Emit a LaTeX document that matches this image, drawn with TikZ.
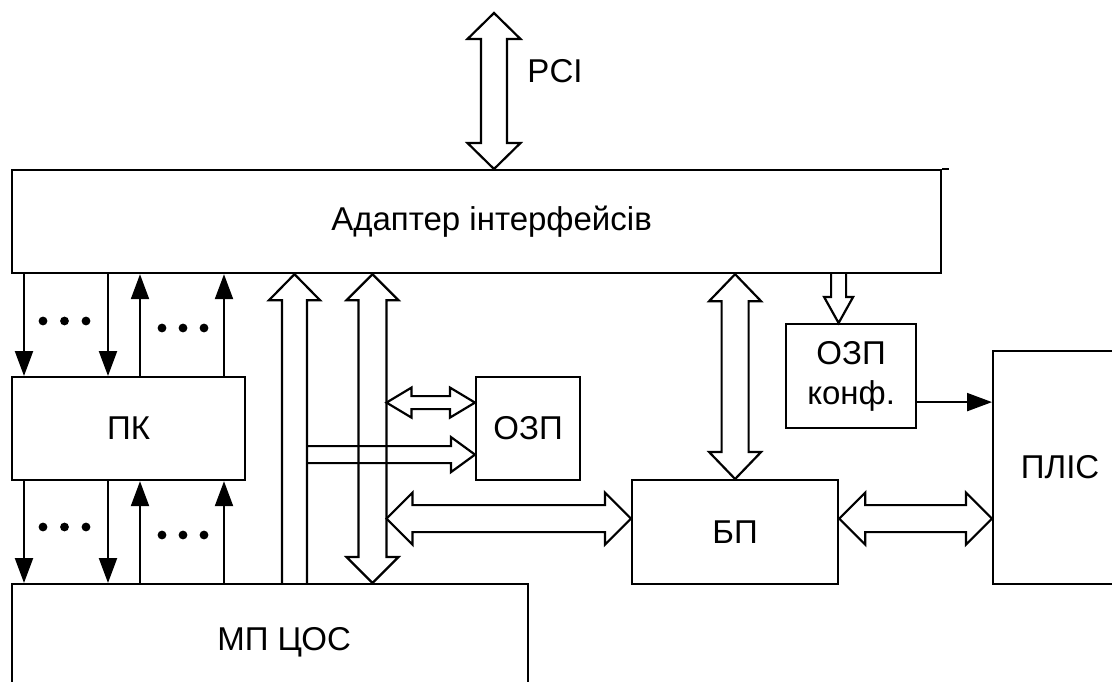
\documentclass[tikz,border=0pt]{standalone}
\usepackage{fontspec}
\setmainfont{Liberation Sans}
\usetikzlibrary{arrows.meta,positioning,calc}

% hollow double arrow: from, to, half shaft, half head, head length
\newcommand{\dblarr}[5]{%
  \path (#1) coordinate (q0) (#2) coordinate (q1);
  \path ($(q0)!#5!(q1)$) coordinate (h0) ($(q1)!#5!(q0)$) coordinate (h1);
  \draw[hollow] (q0) -- ($(h0)!#4!90:(q1)$) -- ($(h0)!#3!90:(q1)$)
    -- ($(h1)!#3!-90:(q0)$) -- ($(h1)!#4!-90:(q0)$) -- (q1)
    -- ($(h1)!#4!90:(q0)$) -- ($(h1)!#3!90:(q0)$)
    -- ($(h0)!#3!-90:(q1)$) -- ($(h0)!#4!-90:(q1)$) -- cycle;}
% hollow single arrow, open tail
\newcommand{\onearr}[5]{%
  \path (#1) coordinate (q0) (#2) coordinate (q1);
  \path ($(q1)!#5!(q0)$) coordinate (h1);
  \draw[hollow] ($(q0)!#3!90:(q1)$) -- ($(h1)!#3!-90:(q0)$)
    -- ($(h1)!#4!-90:(q0)$) -- (q1) -- ($(h1)!#4!90:(q0)$)
    -- ($(h1)!#3!90:(q0)$) -- ($(q0)!#3!-90:(q1)$);}

\begin{document}
\begin{tikzpicture}[x=1pt, y=-1pt,
  blk/.style={
    draw, line width=2.2pt, anchor=north west, inner sep=0pt,
    align=center, font=\fontsize{33}{40}\selectfont
  },
  hollow/.style={line width=2.2pt},
  thinarr/.style={-{Triangle[length=25pt, width=18pt]}, line width=2.2pt}
]
  \useasboundingbox (0,0) rectangle (1112,681);

  \node[blk, minimum width=929pt, minimum height=103pt] (adp) at (11,169) {\hspace*{30pt}Адаптер інтерфейсів};
  \draw[line width=2.2pt] (adp.north east) -- ++(7,0);
  \node[blk, minimum width=233pt, minimum height=103pt] (pk)  at (11,376) {ПК};
  \node[blk, minimum width=516pt, minimum height=117pt] (mp)  at (11,583) {\hspace*{28pt}МП ЦОС};
  \node[blk, minimum width=104pt, minimum height=103pt] (ozp) at (475,376) {ОЗП};
  \node[blk, minimum width=206pt, minimum height=104pt] (bp)  at (631,479) {БП};
  \node[blk, minimum width=130pt, minimum height=104pt] (ozk) at (785,323) {ОЗП\\конф.};
  \node[blk, minimum width=134pt, minimum height=233pt] (pl)  at (992,350) {ПЛІС};

  % PCI bus
  \coordinate (pci) at (494,13);
  \dblarr{pci}{adp.north -| pci}{13pt}{26.5pt}{26pt}
  \node[font=\fontsize{33}{40}\selectfont] (pcilbl) at (555,71) {PCI};

  % control lines
  \foreach \dx in {13,97} {
    \draw[thinarr] ($(adp.south west)+(\dx,0)$) -- ($(pk.north west)+(\dx,0)$);
    \draw[thinarr] ($(pk.south west)+(\dx,0)$) -- ($(mp.north west)+(\dx,0)$);
  }
  \foreach \dx in {129,213} {
    \draw[thinarr] ($(pk.north west)+(\dx,0)$) -- ($(adp.south west)+(\dx,0)$);
    \draw[thinarr] ($(mp.north west)+(\dx,0)$) -- ($(pk.south west)+(\dx,0)$);
  }
  \foreach \x in {43,64.5,86} {
    \fill (\x,321) circle (4.4pt);
    \fill (\x,527) circle (4.4pt);
  }
  \foreach \x in {162,183,204} {
    \fill (\x,328) circle (4.4pt);
    \fill (\x,535) circle (4.4pt);
  }

  % buses
  \coordinate (up)  at ($(mp.north west)+(283.5,0)$);
  \coordinate (bus) at ($(mp.north west)+(361.5,0)$);
  \onearr{up}{adp.south -| up}{12.5pt}{25.5pt}{26pt}
  \dblarr{bus}{adp.south -| bus}{14pt}{26pt}{26pt}

  \coordinate (ozpa) at ($(ozp.west)+(0,-26)$);
  \coordinate (ozpb) at ($(ozp.west)+(0,26)$);
  \dblarr{$(bus |- ozpa)+(14,0)$}{ozpa}{6.5pt}{15pt}{25pt}
  \onearr{$(up |- ozpb)+(12.5,0)$}{ozpb}{8.5pt}{17.5pt}{24pt}

  \coordinate (bpa) at ($(bp.west)+(0,-13.5)$);
  \dblarr{$(bus |- bpa)+(14,0)$}{bpa}{13.5pt}{26pt}{26pt}
  \dblarr{adp.south -| bp.north}{bp.north}{13.5pt}{26pt}{27pt}

  \coordinate (ozkin) at ($(ozk.north)+(-12.5,0)$);
  \onearr{adp.south -| ozkin}{ozkin}{7.5pt}{14.5pt}{26pt}

  \coordinate (bpb) at ($(bp.east)+(0,-13.5)$);
  \dblarr{bpb}{pl.west |- bpb}{13.5pt}{26pt}{26pt}

  \coordinate (ozkout) at ($(ozk.east)+(0,26)$);
  \draw[thinarr] (ozkout) -- (pl.west |- ozkout);
\end{tikzpicture}
\end{document}
